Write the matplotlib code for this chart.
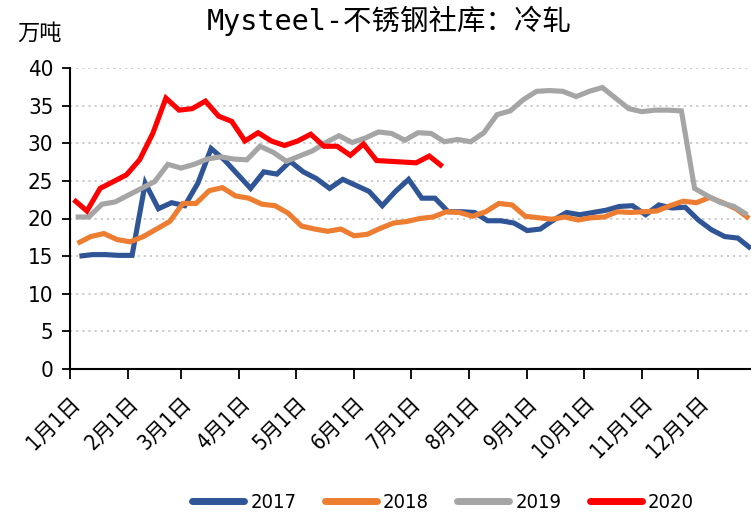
import matplotlib
matplotlib.use("Agg")
import matplotlib.pyplot as plt
from matplotlib import font_manager
from matplotlib.transforms import ScaledTranslation

# weekly readings, day-of-year of first point + 7 days per step
start_2017, start_2018, start_2019, start_2020 = 5, 4, 3, 2

s2017 = [15.0, 15.2, 15.2, 15.1, 15.1, 24.7, 21.3, 22.1, 21.7, 24.7,
         29.3, 27.8, 25.9, 24.0, 26.2, 25.9, 27.6, 26.2, 25.3, 24.0,
         25.2, 24.4, 23.6, 21.7, 23.6, 25.2, 22.7, 22.7, 20.9, 20.9,
         20.8, 19.7, 19.7, 19.4, 18.4, 18.6, 19.8, 20.8, 20.5, 20.8,
         21.1, 21.6, 21.7, 20.5, 21.8, 21.4, 21.5, 19.8, 18.5, 17.6,
         17.4, 16.0]
s2018 = [16.7, 17.6, 18.0, 17.2, 16.9, 17.6, 18.6, 19.6, 22.0, 22.0,
         23.7, 24.1, 23.0, 22.7, 21.9, 21.7, 20.7, 19.0, 18.6, 18.3,
         18.6, 17.7, 17.9, 18.7, 19.4, 19.6, 20.0, 20.2, 20.9, 20.8,
         20.3, 20.9, 22.0, 21.8, 20.3, 20.1, 19.9, 20.2, 19.8, 20.1,
         20.2, 20.9, 20.8, 20.9, 21.0, 21.7, 22.3, 22.1, 22.8, 22.1,
         21.3, 20.0]
s2019 = [20.2, 20.2, 21.9, 22.2, 23.1, 24.0, 24.9, 27.2, 26.7, 27.2,
         27.9, 28.2, 27.9, 27.8, 29.6, 28.8, 27.6, 28.3, 29.0, 30.1,
         31.0, 30.1, 30.7, 31.5, 31.3, 30.4, 31.4, 31.3, 30.2, 30.5,
         30.2, 31.4, 33.8, 34.3, 35.8, 36.9, 37.0, 36.9, 36.2, 36.9,
         37.4, 36.0, 34.6, 34.2, 34.4, 34.4, 34.3, 24.0, 23.0, 22.1,
         21.6, 20.5]
s2020 = [22.5, 21.0, 24.0, 24.9, 25.8, 27.8, 31.3, 36.0, 34.4, 34.6,
         35.6, 33.6, 32.9, 30.3, 31.4, 30.3, 29.7, 30.3, 31.2, 29.6,
         29.6, 28.4, 29.9, 27.7, 27.6, 27.5, 27.4, 28.3, 26.9]

month_days = [0, 31, 59, 90, 120, 151, 181, 212, 243, 273, 304, 334]
month_labels = ["1月1日", "2月1日", "3月1日", "4月1日", "5月1日", "6月1日",
                "7月1日", "8月1日", "9月1日", "10月1日", "11月1日", "12月1日"]
yticks = [0, 5, 10, 15, 20, 25, 30, 35, 40]

series = [("2017", start_2017, s2017, "#2F5597"),
          ("2018", start_2018, s2018, "#ED7D31"),
          ("2019", start_2019, s2019, "#A5A5A5"),
          ("2020", start_2020, s2020, "#FF0000")]

# narrow sans for digits if one is around, CJK fallback for 月/日
names = {f.name for f in font_manager.fontManager.ttflist}
narrow = [n for n in ["Liberation Sans Narrow", "Arial Narrow"] if n in names]
narrow = narrow + ["DejaVu Sans", "Noto Sans CJK SC"]
stretch = "normal" if narrow[0] != "DejaVu Sans" else "condensed"

fig = plt.figure(figsize=(7.51, 5.14), dpi=100)
ax = fig.add_axes([70 / 751, 145 / 514, 681 / 751, 301 / 514])

for name, start, vals, color in series:
    days = [start + 7 * i for i in range(len(vals))]
    ax.plot(days, vals, color=color, lw=3.7, label=name,
            solid_capstyle="butt", solid_joinstyle="miter")

ax.set_xlim(0, 362)
ax.set_ylim(0, 40)
ax.set_yticks(yticks)
ax.set_yticklabels([str(v) for v in yticks], family=narrow, stretch=stretch,
                   fontsize=16)
ax.set_xticks(month_days)
ax.set_xticklabels(month_labels, family=narrow, stretch=stretch, fontsize=15,
                   rotation=45, ha="right", va="top", rotation_mode="anchor")
shift = ScaledTranslation(-0.07, 0, fig.dpi_scale_trans)
for lab in ax.get_xticklabels():
    lab.set_transform(lab.get_transform() + shift)
ax.tick_params(axis="y", length=6, width=1.3, pad=6)
ax.tick_params(axis="x", length=7, width=1.3, pad=10)

for y in yticks[1:]:
    ax.axhline(y, color="#C8C8C8", lw=1.3, ls=(0, (1.2, 2.2)), zorder=0)

for side in ["top", "right"]:
    ax.spines[side].set_visible(False)
ax.spines["left"].set_linewidth(1.5)
ax.spines["bottom"].set_linewidth(1.5)

fig.text(389 / 751, 1 - 21 / 514, "Mysteel-不锈钢社库：冷轧",
         family=["DejaVu Sans Mono", "Noto Sans CJK SC"], fontsize=20.5,
         ha="center", va="center")
fig.text(17 / 751, 1 - 33 / 514, "万吨", family=["Noto Sans CJK SC"],
         fontsize=16, ha="left", va="center")

leg = fig.legend(loc="center", bbox_to_anchor=(443 / 751, 11 / 514), ncol=4,
                 frameon=False,
                 prop={"family": narrow, "size": 14.5, "stretch": stretch},
                 handlelength=2.6, handletextpad=0.3, columnspacing=1.4)
for line in leg.get_lines():
    line.set_linewidth(5)
    line.set_solid_capstyle("round")

fig.savefig("out.png", dpi=100)
